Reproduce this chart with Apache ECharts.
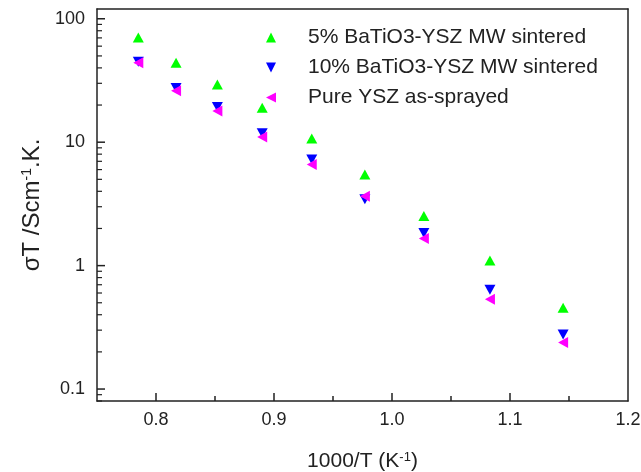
<!DOCTYPE html>
<html>
<head>
<meta charset="utf-8">
<script src="https://cdn.jsdelivr.net/npm/echarts@6/dist/echarts.min.js"></script>
<style>
  html, body { margin: 0; padding: 0; background: #fff; }
  #chart { width: 641px; height: 472px; }
</style>
</head>
<body>
<div id="chart"></div>
<script>
// values
const invT = [0.785, 0.817, 0.852, 0.890, 0.932, 0.977, 1.027, 1.083, 1.145];
const bto5 = [70.6, 44.0, 29.4, 19.0, 10.7, 5.47, 2.52, 1.10, 0.456];
const bto10 = [44.8, 27.5, 19.3, 11.8, 7.24, 3.45, 1.84, 0.638, 0.277];
const yszSprayed = [44.0, 26.1, 17.9, 11.0, 6.59, 3.65, 1.66, 0.533, 0.238];

const seriesNames = ['5% BaTiO3-YSZ MW sintered', '10% BaTiO3-YSZ MW sintered', 'Pure YSZ as-sprayed'];
const xLabels = [0.8, 0.9, 1.0, 1.1, 1.2];
const xMajor = [0.8, 0.9, 1.0, 1.1];
const xMinor = [0.85, 0.95, 1.05, 1.15];
const yMajor = [0.1, 1, 10, 100];
// log minor ticks 2..9 of every decade
const yMinorAll = [];
[0.01, 0.1, 1, 10].forEach(d => {
  for (let k = 2; k <= 9; k++) yMinorAll.push(d * k);
});

const font = '"Liberation Sans", Arial, sans-serif';
const ink = '#222';
const X_MIN = 0.75, X_MAX = 1.2, Y_MIN = 0.08, Y_MAX = 120;
const yMinor = yMinorAll.filter(v => v >= Y_MIN && v <= Y_MAX);

function pairs(xs, ys) {
  return ys.map((v, i) => [xs[i], v]);
}

// axis that only draws a frame line (top / right edges)
function frameAxis(type, position, min, max) {
  return {
    type: type, position: position, min: min, max: max,
    axisLine: { show: true, onZero: false, lineStyle: { color: ink, width: 1.5 } },
    axisTick: { show: false }, axisLabel: { show: false }, splitLine: { show: false }
  };
}

// y ticks drawn as short rects sitting on the left axis (axis ticks do not show for y here)
function yTickSeries(values, len, thick) {
  return {
    type: 'scatter', silent: true, clip: false, z: 1,
    symbol: 'rect', symbolSize: [len, thick], symbolOffset: [len / 2, 0],
    itemStyle: { color: ink, opacity: 1 },
    data: values.map(v => [X_MIN, v])
  };
}

const chart = echarts.init(document.getElementById('chart'));
chart.setOption({
  animation: false,
  tooltip: { show: false },
  textStyle: { fontFamily: font },
  grid: {
    left: 97, right: 13, top: 9, bottom: 71,
    outerBoundsMode: 'none'
  },
  legend: {
    orient: 'vertical',
    left: 266, top: 27, padding: 0,
    itemWidth: 10, itemHeight: 10, itemGap: 9,
    textStyle: { fontSize: 21, color: ink, fontFamily: font, padding: [0, 0, 0, 27], lineHeight: 21 },
    data: [
      { name: seriesNames[0], icon: 'triangle' },
      { name: seriesNames[1], icon: 'path://M0,0L10,0L5,10Z' },
      { name: seriesNames[2], icon: 'path://M10,0L10,10L0,5Z' }
    ]
  },
  xAxis: [{
    type: 'value', min: X_MIN, max: X_MAX, position: 'bottom',
    name: '1000/T (K{s|-1})',
    nameLocation: 'middle', nameGap: 50,
    nameTextStyle: {
      fontSize: 21, color: ink, fontFamily: font,
      rich: { s: { fontSize: 13, verticalAlign: 'top', fontFamily: font, color: ink } }
    },
    axisLine: { show: true, onZero: false, lineStyle: { color: ink, width: 1.5 } },
    axisTick: { show: true, inside: true, length: 8, customValues: xMajor, lineStyle: { color: ink, width: 1.5 } },
    axisLabel: { customValues: xLabels, margin: 10, fontSize: 18, color: ink, formatter: v => v.toFixed(1) },
    splitLine: { show: false }
  }, {
    type: 'value', min: X_MIN, max: X_MAX, position: 'bottom',
    axisLine: { show: false, onZero: false },
    axisTick: { show: true, inside: true, length: 5, customValues: xMinor, lineStyle: { color: ink, width: 1.5 } },
    axisLabel: { show: false },
    splitLine: { show: false }
  }, frameAxis('value', 'top', X_MIN, X_MAX)],
  yAxis: [{
    type: 'log', logBase: 10, min: Y_MIN, max: Y_MAX, position: 'left',
    name: '{a|σT /Scm}{s|-1}{a|.K.}',
    nameLocation: 'middle', nameGap: 53,
    nameTextStyle: {
      color: ink, fontFamily: font,
      rich: {
        a: { fontSize: 24, fontFamily: font, color: ink },
        s: { fontSize: 14, verticalAlign: 'top', fontFamily: font, color: ink }
      }
    },
    axisLine: { show: true, onZero: false, lineStyle: { color: ink, width: 1.5 } },
    axisTick: { show: false },
    axisLabel: { customValues: yMajor, margin: 12, fontSize: 18, color: ink, formatter: v => String(v) },
    splitLine: { show: false }
  }, frameAxis('log', 'right', Y_MIN, Y_MAX)],
  series: [{
    name: seriesNames[0], type: 'scatter',
    symbol: 'triangle', symbolSize: [11, 10],
    itemStyle: { color: '#00ff00', opacity: 1 },
    data: pairs(invT, bto5)
  }, {
    name: seriesNames[1], type: 'scatter',
    symbol: 'triangle', symbolSize: [11, 10], symbolRotate: 180,
    itemStyle: { color: '#0000ff', opacity: 1 },
    data: pairs(invT, bto10)
  }, {
    name: seriesNames[2], type: 'scatter',
    symbol: 'triangle', symbolSize: [11, 10], symbolRotate: 90,
    itemStyle: { color: '#ff00ff', opacity: 1 },
    data: pairs(invT, yszSprayed)
  },
  yTickSeries(yMajor, 8, 1.5),
  yTickSeries(yMinor, 5, 1.2)]
});
</script>
</body>
</html>
